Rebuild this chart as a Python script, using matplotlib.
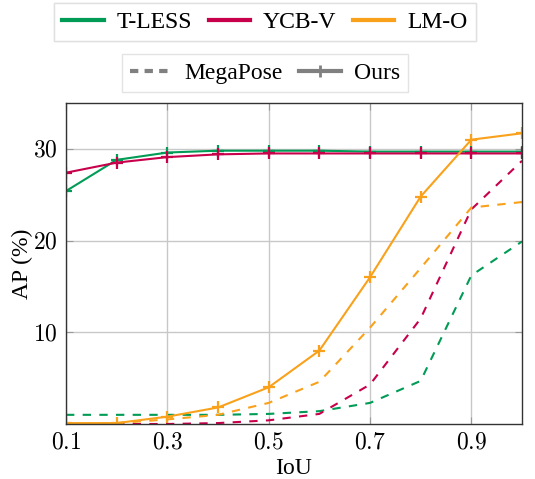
import matplotlib
matplotlib.use('Agg')
import matplotlib.pyplot as plt
from matplotlib.lines import Line2D

plt.rcParams['font.family'] = ['Liberation Serif', 'DejaVu Serif']
plt.rcParams['mathtext.fontset'] = 'cm'

iou = [0.1, 0.2, 0.3, 0.4, 0.5, 0.6, 0.7, 0.8, 0.9, 1.0]

# Ours (solid + markers)
ours_tless = [25.4, 28.8, 29.6, 29.8, 29.8, 29.8, 29.7, 29.7, 29.7, 29.7]
ours_ycbv = [27.4, 28.5, 29.1, 29.4, 29.5, 29.5, 29.5, 29.5, 29.5, 29.5]
ours_lmo = [0.1, 0.1, 0.8, 1.8, 4.0, 8.0, 16.0, 24.8, 31.0, 31.7]

# MegaPose (dashed)
mega_tless = [1.0, 1.0, 1.0, 1.0, 1.1, 1.4, 2.3, 4.7, 16.2, 19.9]
mega_ycbv = [0.0, 0.0, 0.0, 0.1, 0.4, 1.1, 4.3, 11.5, 23.4, 28.7]
mega_lmo = [0.0, 0.1, 0.5, 1.0, 2.3, 4.6, 10.5, 17.0, 23.6, 24.2]

datasets = ['T-LESS', 'YCB-V', 'LM-O']
colors = ['#009B55', '#C8004B', '#F9A11B']
gray = '#808080'

fig = plt.figure(figsize=(5.35, 4.79), dpi=100)
ax = fig.add_axes([66 / 535, 1 - 424 / 479, (522 - 66) / 535, (424 - 103) / 479])

for ys, c in zip([mega_tless, mega_ycbv, mega_lmo], colors):
    ax.plot(iou, ys, color=c, lw=1.5, ls=(0, (4, 4)))
for ys, c in zip([ours_tless, ours_ycbv, ours_lmo], colors):
    ax.plot(iou, ys, color=c, lw=1.5, marker='+', ms=9, mew=1.6)

ax.set_xlim(0.1, 1.0)
ax.set_ylim(0, 35)
ax.set_xticks([0.1, 0.3, 0.5, 0.7, 0.9])
ax.set_xticklabels(['$%.1f$' % v for v in [0.1, 0.3, 0.5, 0.7, 0.9]])
ax.set_yticks([10, 20, 30])
ax.set_yticklabels(['$%d$' % v for v in [10, 20, 30]])
ax.tick_params(direction='in', length=5, color='#999999', labelsize=17,
               top=True, right=True, pad=6)
ax.grid(True, color='#c8c8c8', lw=1)
ax.set_axisbelow(True)
for s in ax.spines.values():
    s.set_color('#333333')
    s.set_linewidth(1)

ax.set_xlabel('IoU', fontsize=17, labelpad=3)
ax.set_ylabel('AP (%)', fontsize=17, labelpad=0)

h1 = [Line2D([], [], color=c, lw=3) for c in colors]
leg1 = fig.legend(h1, datasets, loc='center', bbox_to_anchor=(265 / 535, 1 - 22 / 479),
                  ncol=3, fontsize=17, frameon=True, fancybox=False, edgecolor='#dddddd',
                  handlelength=1.75, columnspacing=0.7, handletextpad=0.55,
                  borderpad=0.35, borderaxespad=0)
h2 = [Line2D([], [], color=gray, lw=3, ls=(0, (2, 1.5))),
      Line2D([], [], color=gray, lw=3, marker='+', ms=9, mew=2)]
leg2 = fig.legend(h2, ['MegaPose', 'Ours'], loc='center',
                  bbox_to_anchor=(265 / 535, 1 - 73 / 479),
                  ncol=2, fontsize=17, frameon=True, fancybox=False, edgecolor='#dddddd',
                  handlelength=1.75, columnspacing=0.7, handletextpad=0.55,
                  borderpad=0.35, borderaxespad=0)
fig.add_artist(leg1)

fig.savefig('out.png', dpi=100)
